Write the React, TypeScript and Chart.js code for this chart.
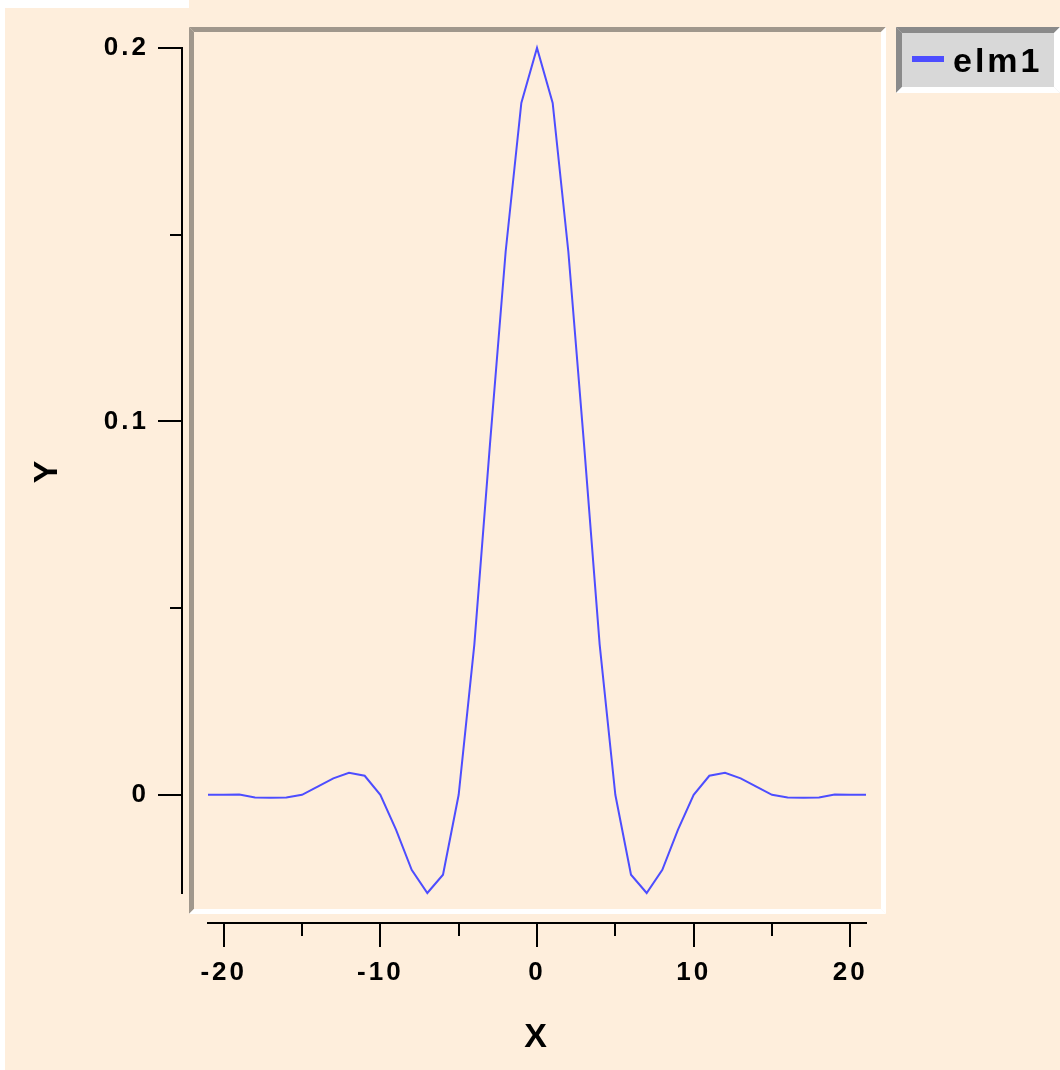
import React, { useEffect, useRef } from 'react';
import { Chart, registerables } from 'chart.js';

Chart.register(...registerables);

const seriesName = 'elm1';
const xValues = [
  -21, -20, -19, -18, -17, -16, -15, -14, -13, -12, -11, -10, -9, -8, -7, -6, -5, -4, -3, -2, -1,
  0, 1, 2, 3, 4, 5, 6, 7, 8, 9, 10, 11, 12, 13, 14, 15, 16, 17, 18, 19, 20, 21,
];
const yValues = [
  0, 0, 0.0001, -0.0007, -0.0008, -0.0007, 0, 0.0022, 0.0044, 0.0059, 0.0051, 0, -0.0093, -0.0201,
  -0.0263, -0.0214, 0, 0.0402, 0.094, 0.1455, 0.1853,
  0.2,
  0.1853, 0.1455, 0.094, 0.0402, 0, -0.0214, -0.0263, -0.0201, -0.0093, 0, 0.0051, 0.0059, 0.0044,
  0.0022, 0, -0.0007, -0.0008, -0.0007, 0.0001, 0, 0,
];
const xMajorTicks = [-20, -10, 0, 10, 20];
const xMinorTicks = [-15, -5, 5, 15];
const yMajorTicks = [0, 0.1, 0.2];
const yMinorTicks = [0.05, 0.15];
const xTitle = 'X';
const yTitle = 'Y';

const PEACH = 'rgb(254,238,220)';
const FRAME_GRAY = 'rgb(160,151,140)';
const LEGEND_GRAY = 'rgb(138,138,138)';
const LEGEND_BG = 'rgb(216,216,216)';
const LINE_BLUE = 'rgb(77,77,255)';
const FONT = '"Liberation Sans", Arial, Helvetica, sans-serif';

function bevel(ctx: CanvasRenderingContext2D, L: number, T: number, R: number, B: number, b: number, dark: string, light: string) {
  ctx.fillStyle = dark;
  ctx.beginPath();
  ctx.moveTo(L, T); ctx.lineTo(R, T); ctx.lineTo(R - b, T + b); ctx.lineTo(L + b, T + b); ctx.closePath(); ctx.fill();
  ctx.beginPath();
  ctx.moveTo(L, T); ctx.lineTo(L + b, T + b); ctx.lineTo(L + b, B - b); ctx.lineTo(L, B); ctx.closePath(); ctx.fill();
  ctx.fillStyle = light;
  ctx.beginPath();
  ctx.moveTo(L, B); ctx.lineTo(L + b, B - b); ctx.lineTo(R - b, B - b); ctx.lineTo(R, B); ctx.closePath(); ctx.fill();
  ctx.beginPath();
  ctx.moveTo(R, T); ctx.lineTo(R, B); ctx.lineTo(R - b, B - b); ctx.lineTo(R - b, T + b); ctx.closePath(); ctx.fill();
}

const decorPlugin = {
  id: 'decor',
  beforeDraw(chart: any) {
    const ctx: CanvasRenderingContext2D = chart.ctx;
    const { left, top, right, bottom } = chart.chartArea;
    ctx.save();
    ctx.fillStyle = '#ffffff';
    ctx.fillRect(0, 0, chart.width, chart.height);
    ctx.fillStyle = PEACH;
    ctx.fillRect(5, 8, chart.width - 5, chart.height - 8);
    ctx.fillRect(189, 0, chart.width - 189, 8);
    // plot frame
    bevel(ctx, left - 19, top - 21, right + 20, bottom + 21, 5, FRAME_GRAY, '#ffffff');
    ctx.restore();
    (ctx as any).letterSpacing = '3px';
  },
  afterDraw(chart: any) {
    const ctx: CanvasRenderingContext2D = chart.ctx;
    (ctx as any).letterSpacing = '0px';
    const { left, top, right, bottom } = chart.chartArea;
    const xs = chart.scales.x;
    const ys = chart.scales.y;
    ctx.save();
    ctx.strokeStyle = '#000';
    ctx.lineWidth = 2;
    ctx.lineCap = 'butt';
    // Y axis
    const ax = left - 26;
    ctx.beginPath();
    ctx.moveTo(ax, top - 1);
    ctx.lineTo(ax, bottom + 1);
    yMajorTicks.forEach((v) => {
      const p = Math.round(ys.getPixelForValue(v));
      ctx.moveTo(ax + 1, p);
      ctx.lineTo(ax - 24, p);
    });
    yMinorTicks.forEach((v) => {
      const p = Math.round(ys.getPixelForValue(v));
      ctx.moveTo(ax + 1, p);
      ctx.lineTo(ax - 12, p);
    });
    ctx.stroke();
    // X axis
    const ay = bottom + 30;
    ctx.beginPath();
    ctx.moveTo(left - 1, ay);
    ctx.lineTo(right + 1, ay);
    xMajorTicks.forEach((v) => {
      const p = Math.round(xs.getPixelForValue(v));
      ctx.moveTo(p, ay - 1);
      ctx.lineTo(p, ay + 24);
    });
    xMinorTicks.forEach((v) => {
      const p = Math.round(xs.getPixelForValue(v));
      ctx.moveTo(p, ay - 1);
      ctx.lineTo(p, ay + 13);
    });
    ctx.stroke();

    // Legend
    const R = chart.width;
    const L = R - 164;
    const T = 27;
    const B = 93;
    ctx.fillStyle = LEGEND_BG;
    ctx.fillRect(L, T, R - L, B - T);
    bevel(ctx, L, T, R, B, 6, LEGEND_GRAY, '#ffffff');
    const ds = chart.data.datasets[0];
    ctx.fillStyle = ds.borderColor;
    ctx.fillRect(L + 16, 56, 32, 6);
    ctx.fillStyle = '#000';
    ctx.font = `bold 34px ${FONT}`;
    (ctx as any).letterSpacing = '3px';
    ctx.textBaseline = 'alphabetic';
    ctx.textAlign = 'left';
    ctx.fillText(ds.label, L + 57, 72);
    (ctx as any).letterSpacing = '0px';
    ctx.restore();
  },
};

export default function App() {
  const canvasRef = useRef<HTMLCanvasElement | null>(null);

  useEffect(() => {
    if (!canvasRef.current) return;
    const chart = new Chart(canvasRef.current, {
      type: 'line',
      data: {
        datasets: [
          {
            label: seriesName,
            data: xValues.map((x, i) => ({ x, y: yValues[i] })),
            borderColor: LINE_BLUE,
            backgroundColor: LINE_BLUE,
            borderWidth: 2,
            pointRadius: 0,
            tension: 0,
            fill: false,
            clip: 10,
          },
        ],
      },
      options: {
        animation: false,
        responsive: true,
        maintainAspectRatio: false,
        events: [],
        layout: { padding: { left: 8, top: 48, right: 194, bottom: 0 } },
        plugins: {
          legend: { display: false },
          tooltip: { enabled: false },
        },
        scales: {
          x: {
            type: 'linear',
            min: -21,
            max: 21,
            grid: { display: false, drawTicks: false },
            border: { display: false },
            afterBuildTicks: (s: any) => {
              s.ticks = xMajorTicks.map((v) => ({ value: v }));
            },
            afterFit: (s: any) => {
              s.height = 177;
              s.paddingLeft = 0;
              s.paddingRight = 0;
            },
            ticks: {
              autoSkip: false,
              maxRotation: 0,
              padding: 64,
              color: '#000',
              font: { family: FONT, size: 26, weight: 'bold' },
              callback: (v: any) => String(v),
            },
            title: {
              display: true,
              text: xTitle,
              color: '#000',
              font: { family: FONT, size: 34, weight: 'bold' },
              padding: { top: 0, bottom: 12 },
            },
          },
          y: {
            type: 'linear',
            min: Math.min(...yValues),
            max: 0.2,
            grid: { display: false, drawTicks: false },
            border: { display: false },
            afterBuildTicks: (s: any) => {
              s.ticks = yMajorTicks.map((v) => ({ value: v }));
            },
            afterFit: (s: any) => {
              s.width = 200;
              s.paddingTop = 0;
              s.paddingBottom = 0;
            },
            ticks: {
              autoSkip: false,
              padding: 59,
              color: '#000',
              font: { family: FONT, size: 26, weight: 'bold' },
              callback: (v: any) => String(v),
            },
            title: {
              display: true,
              text: yTitle,
              color: '#000',
              font: { family: FONT, size: 34, weight: 'bold' },
              padding: { top: 19, bottom: 0 },
            },
          },
        },
      } as any,
      plugins: [decorPlugin],
    });
    return () => chart.destroy();
  }, []);

  return (
    <div style={{ position: 'absolute', left: 0, top: 0, width: 1060, height: 1070 }}>
      <canvas ref={canvasRef} />
    </div>
  );
}
